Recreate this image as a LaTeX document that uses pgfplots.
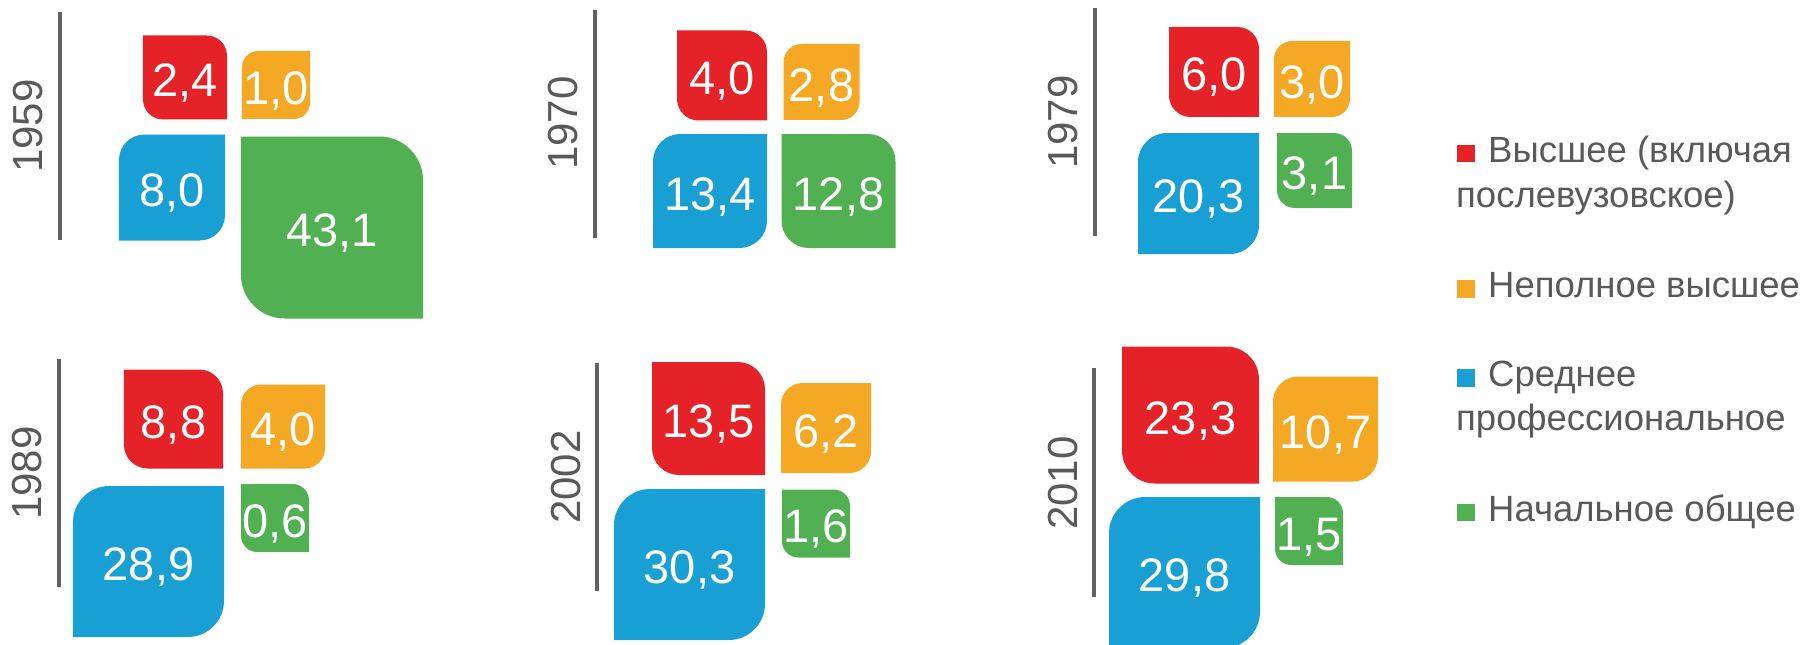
\documentclass[border=0pt]{standalone}
\usepackage{pgfplots}
\pgfplotsset{compat=1.18}
\usepackage{fontspec}
\setmainfont{Liberation Sans}
\definecolor{cred}{HTML}{E52228}
\definecolor{corange}{HTML}{F5A824}
\definecolor{cblue}{HTML}{18A0D5}
\definecolor{cgreen}{HTML}{51B052}
\definecolor{ctext}{HTML}{595959}
\definecolor{cline}{HTML}{626262}

\begin{document}
\begin{tikzpicture}
\begin{axis}[
  at={(0,0)}, anchor=south west,
  scale only axis, width=1810bp, height=645bp,
  xmin=0, xmax=1810, ymin=0, ymax=645, y dir=reverse,
  hide axis, clip=false,
]
% separator lines
\addplot[cline, line width=3.2bp, mark=none] coordinates {(60,12) (60,240)};
\addplot[cline, line width=3.2bp, mark=none] coordinates {(595,10) (595,238)};
\addplot[cline, line width=3.2bp, mark=none] coordinates {(1095,8) (1095,236)};
\addplot[cline, line width=3.2bp, mark=none] coordinates {(59,359) (59,587)};
\addplot[cline, line width=3.2bp, mark=none] coordinates {(597,363) (597,591)};
\addplot[cline, line width=3.2bp, mark=none] coordinates {(1094,368) (1094,597)};

% legend
\addplot[cred, only marks, mark=square*, mark size=8.3bp, mark options={line width=0.2bp}] coordinates {(1465.5,153)};
\addplot[corange, only marks, mark=square*, mark size=8.3bp, mark options={line width=0.2bp}] coordinates {(1465.5,288.5)};
\addplot[cblue, only marks, mark=square*, mark size=8.3bp, mark options={line width=0.2bp}] coordinates {(1465.5,377.5)};
\addplot[cgreen, only marks, mark=square*, mark size=8.3bp, mark options={line width=0.2bp}] coordinates {(1465.5,512)};

% petals: px, py = centre (px), side = side length (px),
% cat = 0 red, 1 orange, 2 blue, 3 green; val = value (%)
\addplot[
  scatter, only marks, mark=*, mark size=0pt,
  mark options={draw=none, fill=none},
  visualization depends on={\thisrow{side}\as\sz},
  visualization depends on={\thisrow{cat}\as\ct},
  visualization depends on={\thisrow{val}\as\vv},
  scatter/@pre marker code/.code={%
    \pgfmathsetmacro\hs{\sz/2}%
    \pgfmathsetmacro\rr{0.24*\sz}%
    \pgfmathtruncatemacro\ci{\ct}%
    \ifcase\ci\relax
      \def\fc{cred}\def\shp{0}%
    \or \def\fc{corange}\def\shp{1}%
    \or \def\fc{cblue}\def\shp{1}%
    \or \def\fc{cgreen}\def\shp{0}%
    \fi
    \ifnum\shp=0\relax
      \path[fill=\fc, draw=none] (-\hs bp,\hs bp) -- (\hs bp-\rr bp,\hs bp)
        arc[start angle=90, end angle=0, radius=\rr bp] -- (\hs bp,-\hs bp)
        -- (-\hs bp+\rr bp,-\hs bp)
        arc[start angle=270, end angle=180, radius=\rr bp] -- cycle;
    \else
      \path[fill=\fc, draw=none] (\hs bp,\hs bp) -- (\hs bp,-\hs bp+\rr bp)
        arc[start angle=0, end angle=-90, radius=\rr bp] -- (-\hs bp,-\hs bp)
        -- (-\hs bp,\hs bp-\rr bp)
        arc[start angle=180, end angle=90, radius=\rr bp] -- cycle;
    \fi
    \node[anchor=base, inner sep=0pt, text=white,
      font=\fontsize{47bp}{56bp}\selectfont] at (0,-19bp)
      {\pgfmathprintnumber[fixed, fixed zerofill, precision=1, use comma, assume math mode=true]{\vv}};
  },
  scatter/@post marker code/.code={},
] table[x=px, y=py] {
px py side cat val
185 77.5 84 0 2.4
276 85 68 1 1.0
172 187.5 106 2 8.0
332 227.5 182 3 43.1
722 75.5 90 0 4.0
821.5 82 76 1 2.8
710 191 114 2 13.4
838.5 191 114 3 12.8
1214 72 90 0 6.0
1312 79 76 1 3.0
1198.5 193.5 121 2 20.3
1314.5 170.5 75 3 3.1
173.5 419 99 0 8.8
283 426.5 84 1 4.0
148.5 561.5 151 2 28.9
275 518 68 3 0.6
708.5 418.5 113 0 13.5
826 428 90 1 6.2
689.5 564.5 151 2 30.3
816 523.5 68 3 1.6
1190.5 415 137 0 23.3
1325.5 429 105 1 10.7
1184.5 572.5 151 2 29.8
1309 531 68 3 1.5
};

% year labels
\begin{scope}[every node/.style={rotate=90, inner sep=0pt, text=ctext,
    font=\fontsize{42bp}{50bp}\selectfont}]
\node at (axis cs:28,126) {1959};
\node at (axis cs:563,123) {1970};
\node at (axis cs:1063,122) {1979};
\node at (axis cs:27,473) {1989};
\node at (axis cs:566,477) {2002};
\node at (axis cs:1063,483) {2010};
\end{scope}

\begin{scope}[every node/.style={anchor=base west, inner sep=0pt, text=ctext,
    font=\fontsize{36.5bp}{45bp}\selectfont}]
\node at (axis cs:1488,162) {Высшее (включая};
\node at (axis cs:1456,207) {послевузовское)};
\node at (axis cs:1488,297) {Неполное высшее};
\node at (axis cs:1488,386) {Среднее};
\node at (axis cs:1456,430) {профессиональное};
\node at (axis cs:1488,521) {Начальное общее};
\end{scope}
\end{axis}
\pgfresetboundingbox
\useasboundingbox (0,0) rectangle (1810bp,645bp);
\end{tikzpicture}
\end{document}
